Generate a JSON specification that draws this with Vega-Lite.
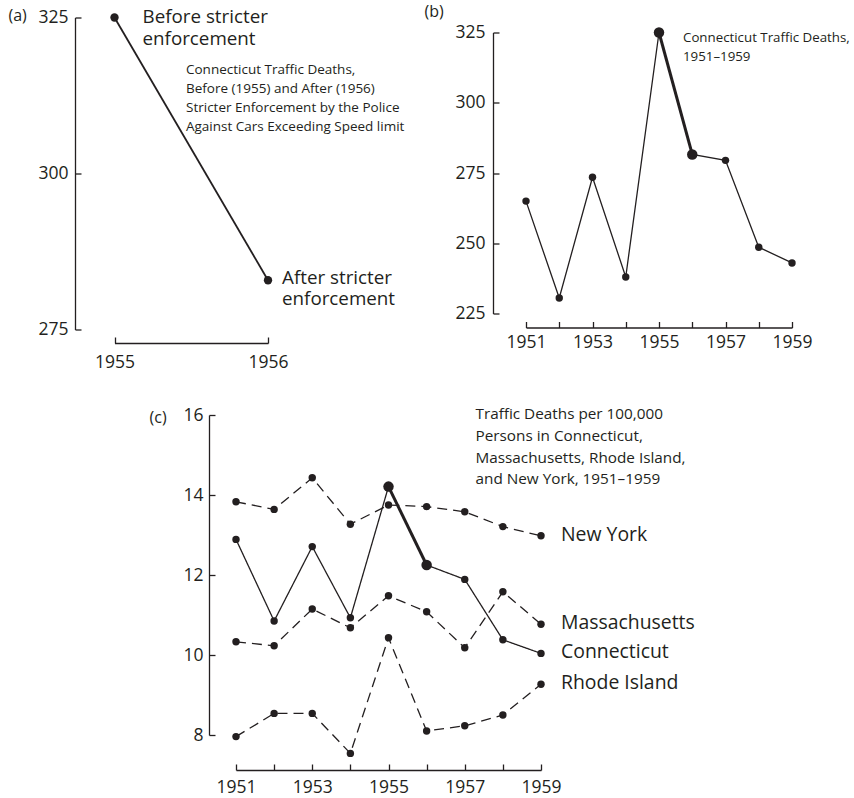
{
  "$schema": "https://vega.github.io/schema/vega-lite/v6.json",
  "padding": {"left": 8, "top": 3.5, "right": 0, "bottom": 6},
  "background": "white",
  "config": {
    "view": {"stroke": null},
    "font": "Open Sans",
    "axis": {
      "grid": false,
      "domainColor": "#231f20",
      "tickColor": "#231f20",
      "domainWidth": 1.3,
      "tickWidth": 1.3,
      "tickSize": -6,
      "labelColor": "#231f20",
      "labelFont": "Open Sans",
      "labelFontSize": 17.5,
      "labelFontWeight": 500,
      "labelFlush": false,
      "labelOverlap": false,
      "titleFont": "Open Sans",
      "titleFontWeight": 500,
      "titleColor": "#231f20",
      "titleFontSize": 16,
      "titleAngle": 0,
      "titleAlign": "left",
      "titleBaseline": "alphabetic"
    },
    "text": {"font": "Open Sans", "color": "#231f20", "fontWeight": 500}
  },
  "datasets": {
    "before_after": [
      {"year": 1955, "deaths": 325},
      {"year": 1956, "deaths": 282.9}
    ],
    "ct": [
      {"year": 1951, "deaths": 265},
      {"year": 1952, "deaths": 230.5},
      {"year": 1953, "deaths": 273.5},
      {"year": 1954, "deaths": 238},
      {"year": 1955, "deaths": 325},
      {"year": 1956, "deaths": 281.6},
      {"year": 1957, "deaths": 279.5},
      {"year": 1958, "deaths": 248.6},
      {"year": 1959, "deaths": 243}
    ],
    "states": [
      {"state": "New York", "year": 1951, "rate": 13.83},
      {"state": "New York", "year": 1952, "rate": 13.64},
      {"state": "New York", "year": 1953, "rate": 14.43},
      {"state": "New York", "year": 1954, "rate": 13.27},
      {"state": "New York", "year": 1955, "rate": 13.75},
      {"state": "New York", "year": 1956, "rate": 13.71},
      {"state": "New York", "year": 1957, "rate": 13.58},
      {"state": "New York", "year": 1958, "rate": 13.21},
      {"state": "New York", "year": 1959, "rate": 12.98},
      {"state": "Connecticut", "year": 1951, "rate": 12.89},
      {"state": "Connecticut", "year": 1952, "rate": 10.85},
      {"state": "Connecticut", "year": 1953, "rate": 12.71},
      {"state": "Connecticut", "year": 1954, "rate": 10.93},
      {"state": "Connecticut", "year": 1955, "rate": 14.21},
      {"state": "Connecticut", "year": 1956, "rate": 12.25},
      {"state": "Connecticut", "year": 1957, "rate": 11.89},
      {"state": "Connecticut", "year": 1958, "rate": 10.38},
      {"state": "Connecticut", "year": 1959, "rate": 10.04},
      {"state": "Massachusetts", "year": 1951, "rate": 10.33},
      {"state": "Massachusetts", "year": 1952, "rate": 10.23},
      {"state": "Massachusetts", "year": 1953, "rate": 11.15},
      {"state": "Massachusetts", "year": 1954, "rate": 10.68},
      {"state": "Massachusetts", "year": 1955, "rate": 11.48},
      {"state": "Massachusetts", "year": 1956, "rate": 11.08},
      {"state": "Massachusetts", "year": 1957, "rate": 10.18},
      {"state": "Massachusetts", "year": 1958, "rate": 11.58},
      {"state": "Massachusetts", "year": 1959, "rate": 10.77},
      {"state": "Rhode Island", "year": 1951, "rate": 7.96},
      {"state": "Rhode Island", "year": 1952, "rate": 8.54},
      {"state": "Rhode Island", "year": 1953, "rate": 8.54},
      {"state": "Rhode Island", "year": 1954, "rate": 7.54},
      {"state": "Rhode Island", "year": 1955, "rate": 10.43},
      {"state": "Rhode Island", "year": 1956, "rate": 8.10},
      {"state": "Rhode Island", "year": 1957, "rate": 8.23},
      {"state": "Rhode Island", "year": 1958, "rate": 8.50},
      {"state": "Rhode Island", "year": 1959, "rate": 9.27}
    ]
  },
  "columns": 2,
  "align": "none",
  "bounds": "flush",
  "spacing": {"row": 85.5, "column": 70},
  "concat": [
    {
      "width": 348,
      "height": 312,
      "data": {"name": "before_after"},
      "encoding": {
        "x": {
          "field": "year", "type": "quantitative",
          "scale": {"domain": [1955, 1956], "range": [39.5, 193], "nice": false, "zero": false},
          "axis": {"values": [1955, 1956], "format": "d", "offset": 13.5, "labelPadding": 16.5, "title": null}
        },
        "y": {
          "field": "deaths", "type": "quantitative",
          "scale": {"domain": [275, 325], "nice": false, "zero": false},
          "axis": {"values": [275, 300, 325], "labelPadding": 13, "title": "(a)", "titleX": -67, "titleY": 3}
        }
      },
      "layer": [
        {"mark": {"type": "line", "color": "#231f20", "strokeWidth": 1.8}},
        {"mark": {"type": "circle", "color": "#231f20", "opacity": 1, "size": 70}},
        {
          "transform": [{"filter": "datum.year == 1955"}],
          "mark": {"type": "text", "text": ["Before stricter", "enforcement"], "align": "left", "baseline": "alphabetic", "dx": 28, "dy": 5.5, "fontSize": 18.8, "lineHeight": 21.5}
        },
        {
          "transform": [{"filter": "datum.year == 1956"}],
          "mark": {"type": "text", "text": ["After stricter", "enforcement"], "align": "left", "baseline": "alphabetic", "dx": 14, "dy": 3.3, "fontSize": 18.8, "lineHeight": 21.7}
        },
        {
          "transform": [{"filter": "datum.year == 1955"}],
          "mark": {"type": "text", "text": ["Connecticut Traffic Deaths,", "Before (1955) and After (1956)", "Stricter Enforcement by the Police", "Against Cars Exceeding Speed limit"], "align": "left", "baseline": "alphabetic", "dx": 71.5, "dy": 56.5, "fontSize": 13.5, "lineHeight": 19}
        }
      ]
    },
    {
      "width": 355,
      "height": 310,
      "data": {"name": "ct"},
      "encoding": {
        "x": {
          "field": "year", "type": "quantitative",
          "scale": {"domain": [1951, 1959], "range": [33, 299], "nice": false, "zero": false},
          "axis": {"values": [1951, 1952, 1953, 1954, 1955, 1956, 1957, 1958, 1959], "format": "d", "labelExpr": "datum.value % 2 == 1 ? datum.label : ''", "labelPadding": 12, "title": null}
        },
        "y": {
          "field": "deaths", "type": "quantitative",
          "scale": {"domain": [225, 325], "range": [296, 15], "nice": false, "zero": false},
          "axis": {"values": [225, 250, 275, 300, 325], "labelPadding": 14, "title": "(b)", "titleX": -69, "titleY": -1}
        }
      },
      "layer": [
        {"mark": {"type": "line", "color": "#231f20", "strokeWidth": 1.3}},
        {
          "transform": [{"filter": "datum.year >= 1955 && datum.year <= 1956"}],
          "mark": {"type": "line", "color": "#231f20", "strokeWidth": 3}
        },
        {
          "mark": {"type": "circle", "color": "#231f20", "opacity": 1},
          "encoding": {"size": {"condition": {"test": "datum.year >= 1955 && datum.year <= 1956", "value": 110}, "value": 55}}
        },
        {
          "transform": [{"filter": "datum.year == 1955"}],
          "mark": {"type": "text", "text": ["Connecticut Traffic Deaths,", "1951–1959"], "align": "left", "baseline": "alphabetic", "dx": 24, "dy": 9, "fontSize": 13.3, "lineHeight": 19}
        }
      ]
    },
    {
      "width": 348,
      "height": 355,
      "data": {"name": "states"},
      "encoding": {
        "x": {
          "field": "year", "type": "quantitative",
          "scale": {"domain": [1951, 1959], "range": [161, 466], "nice": false, "zero": false},
          "axis": {"values": [1951, 1952, 1953, 1954, 1955, 1956, 1957, 1958, 1959], "format": "d", "labelExpr": "datum.value % 2 == 1 ? datum.label : ''", "labelPadding": 14, "title": null}
        },
        "y": {
          "field": "rate", "type": "quantitative",
          "scale": {"domain": [8, 16], "range": [320, 0], "nice": false, "zero": false},
          "axis": {"values": [8, 10, 12, 14, 16], "offset": -134, "labelPadding": 12, "title": "(c)", "titleX": -60, "titleY": 7}
        }
      },
      "layer": [
        {
          "mark": {"type": "line", "color": "#231f20", "strokeWidth": 1.3},
          "encoding": {
            "detail": {"field": "state", "type": "nominal"},
            "strokeDash": {"field": "state", "type": "nominal", "scale": {"domain": ["Connecticut", "Massachusetts", "New York", "Rhode Island"], "range": [[1, 0], [10, 6], [10, 6], [10, 6]]}, "legend": null}
          }
        },
        {
          "transform": [{"filter": "datum.state == 'Connecticut' && datum.year >= 1955 && datum.year <= 1956"}],
          "mark": {"type": "line", "color": "#231f20", "strokeWidth": 3}
        },
        {
          "mark": {"type": "circle", "color": "#231f20", "opacity": 1},
          "encoding": {"size": {"condition": {"test": "datum.state == 'Connecticut' && datum.year >= 1955 && datum.year <= 1956", "value": 110}, "value": 55}}
        },
        {
          "transform": [{"filter": "datum.year == 1959"}],
          "mark": {"type": "text", "align": "left", "baseline": "middle", "dx": 20, "dy": -1, "fontSize": 19.4},
          "encoding": {"text": {"field": "state", "type": "nominal"}}
        },
        {
          "transform": [{"filter": "datum.state == 'Connecticut' && datum.year == 1955"}],
          "mark": {"type": "text", "text": ["Traffic Deaths per 100,000", "Persons in Connecticut,", "Massachusetts, Rhode Island,", "and New York, 1951–1959"], "align": "left", "baseline": "alphabetic", "dx": 87, "dy": -67.4, "fontSize": 15.3, "lineHeight": 21.7}
        }
      ]
    }
  ]
}
